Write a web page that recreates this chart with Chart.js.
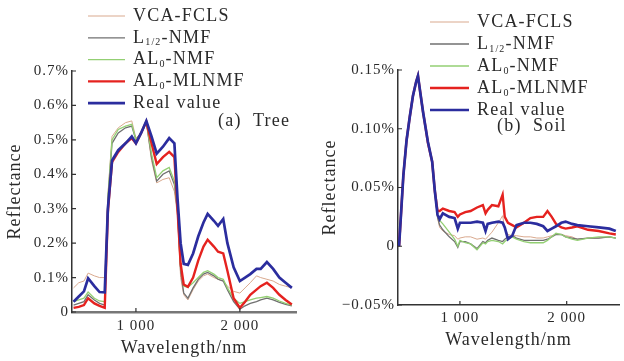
<!DOCTYPE html>
<html>
<head>
<meta charset="utf-8">
<script src="https://cdn.jsdelivr.net/npm/chart.js@4.4.0/dist/chart.umd.min.js"></script>
<style>
  html, body { margin: 0; padding: 0; background: #fff; }
  .panel { position: absolute; top: 0; width: 312px; height: 361px; }
</style>
</head>
<body>
<div class="panel" style="left:0"><canvas id="tree" width="312" height="361"></canvas></div>
<div class="panel" style="left:312px"><canvas id="soil" width="312" height="361"></canvas></div>
<script>
// series (same order in both panels)
const seriesNames = ['VCA-FCLS', 'L_{1/2}-NMF', 'AL_{0}-NMF', 'AL_{0}-MLNMF', 'Real value'];
const seriesColors = ['#d9a98e', '#707070', '#93cf73', '#e5221f', '#2b2d9e'];
const seriesWidths = [1, 1.3, 1.3, 2.4, 2.7];

// x ticks (both panels)
const xTicks = [1000, 2000];
const xTickLabels = ['1 000', '2 000'];

// (a) Tree, reflectance in %
const treeWavelength = [400, 450, 500, 540, 600, 650, 700, 730, 770, 830, 900, 960, 1000, 1050, 1100, 1150, 1200, 1260, 1320, 1370, 1400, 1430, 1460, 1500, 1550, 1600, 1650, 1690, 1750, 1790, 1840, 1880, 1940, 2000, 2050, 2100, 2160, 2200, 2260, 2320, 2380, 2440, 2500];
const treeVCA = [0.07, 0.085, 0.09, 0.113, 0.105, 0.1, 0.1, 0.34, 0.51, 0.535, 0.55, 0.555, 0.505, 0.52, 0.55, 0.44, 0.375, 0.385, 0.39, 0.35, 0.28, 0.1, 0.05, 0.035, 0.065, 0.09, 0.105, 0.11, 0.1, 0.095, 0.09, 0.075, 0.06, 0.055, 0.07, 0.085, 0.105, 0.1, 0.095, 0.09, 0.08, 0.075, 0.07];
const treeL12 = [0.02, 0.025, 0.03, 0.05, 0.035, 0.025, 0.02, 0.32, 0.49, 0.52, 0.535, 0.54, 0.5, 0.52, 0.552, 0.45, 0.38, 0.4, 0.41, 0.37, 0.29, 0.12, 0.055, 0.04, 0.07, 0.095, 0.11, 0.115, 0.105, 0.095, 0.09, 0.065, 0.03, 0.008, 0.018, 0.025, 0.03, 0.035, 0.04, 0.035, 0.028, 0.022, 0.018];
const treeAL0 = [0.03, 0.035, 0.04, 0.058, 0.04, 0.032, 0.03, 0.33, 0.5, 0.53, 0.54, 0.545, 0.5, 0.52, 0.553, 0.46, 0.39, 0.41, 0.42, 0.38, 0.3, 0.13, 0.075, 0.072, 0.085, 0.1, 0.115, 0.12, 0.11, 0.1, 0.095, 0.07, 0.04, 0.025, 0.03, 0.035, 0.04, 0.042, 0.045, 0.04, 0.032, 0.025, 0.02];
const treeAL0ML = [0.012, 0.015, 0.02, 0.04, 0.025, 0.018, 0.012, 0.29, 0.435, 0.465, 0.49, 0.505, 0.49, 0.52, 0.553, 0.49, 0.43, 0.45, 0.465, 0.45, 0.3, 0.14, 0.08, 0.073, 0.1, 0.15, 0.19, 0.21, 0.19, 0.175, 0.17, 0.12, 0.04, 0.012, 0.03, 0.05, 0.065, 0.075, 0.085, 0.07, 0.05, 0.035, 0.022];
const treeReal = [0.03, 0.045, 0.06, 0.098, 0.075, 0.058, 0.057, 0.3, 0.44, 0.47, 0.49, 0.51, 0.49, 0.52, 0.555, 0.51, 0.46, 0.48, 0.505, 0.49, 0.33, 0.2, 0.14, 0.137, 0.17, 0.22, 0.26, 0.285, 0.265, 0.25, 0.27, 0.2, 0.13, 0.09, 0.1, 0.11, 0.125, 0.125, 0.145, 0.125, 0.1, 0.085, 0.07];
const treeYTicks = [0, 0.1, 0.2, 0.3, 0.4, 0.5, 0.6, 0.7];
const treeYTickLabels = ['0', '0.1%', '0.2%', '0.3%', '0.4%', '0.5%', '0.6%', '0.7%'];

// (b) Soil, reflectance in %
const soilWavelength = [430, 450, 470, 500, 530, 560, 590, 607, 630, 655, 680, 700, 740, 765, 790, 810, 840, 900, 950, 980, 1000, 1050, 1100, 1160, 1215, 1240, 1260, 1300, 1360, 1400, 1420, 1450, 1490, 1530, 1600, 1660, 1720, 1780, 1820, 1860, 1900, 1950, 1990, 2050, 2100, 2200, 2300, 2400, 2460];
const soilVCA = [0, 0.03, 0.06, 0.09, 0.11, 0.128, 0.14, 0.145, 0.13, 0.114, 0.1, 0.089, 0.072, 0.047, 0.024, 0.016, 0.013, 0.01, 0.009, 0.006, 0.007, 0.008, 0.008, 0.006, 0.007, 0.006, 0.008, 0.012, 0.02, 0.026, 0.015, 0.01, 0.009, 0.009, 0.008, 0.008, 0.007, 0.007, 0.008, 0.009, 0.01, 0.01, 0.009, 0.008, 0.006, 0.007, 0.007, 0.008, 0.007];
const soilL12 = [0, 0.03, 0.06, 0.09, 0.11, 0.128, 0.14, 0.145, 0.13, 0.114, 0.1, 0.089, 0.072, 0.047, 0.025, 0.018, 0.014, 0.008, 0.004, -0.001, 0.004, 0.004, 0.002, -0.002, 0.004, 0.003, 0.005, 0.007, 0.005, 0.004, 0.006, 0.008, 0.009, 0.007, 0.005, 0.005, 0.005, 0.005, 0.006, 0.008, 0.01, 0.01, 0.008, 0.007, 0.006, 0.007, 0.007, 0.008, 0.007];
const soilAL0 = [0, 0.03, 0.06, 0.09, 0.11, 0.128, 0.14, 0.145, 0.13, 0.114, 0.1, 0.09, 0.072, 0.047, 0.026, 0.022, 0.019, 0.012, 0.006, 0, 0.005, 0.003, 0.002, -0.003, 0.003, 0.002, 0.004, 0.005, 0.004, 0.002, 0.004, 0.006, 0.008, 0.006, 0.004, 0.003, 0.003, 0.003, 0.005, 0.008, 0.011, 0.01, 0.008, 0.006, 0.005, 0.007, 0.008, 0.008, 0.007];
const soilAL0ML = [0, 0.03, 0.06, 0.09, 0.11, 0.128, 0.14, 0.145, 0.13, 0.114, 0.1, 0.088, 0.072, 0.047, 0.03, 0.03, 0.032, 0.03, 0.029, 0.025, 0.027, 0.029, 0.03, 0.033, 0.035, 0.028, 0.031, 0.035, 0.034, 0.044, 0.025, 0.02, 0.018, 0.016, 0.02, 0.024, 0.025, 0.025, 0.03, 0.025, 0.019, 0.016, 0.015, 0.016, 0.017, 0.014, 0.013, 0.011, 0.01];
const soilReal = [0, 0.03, 0.06, 0.09, 0.11, 0.128, 0.14, 0.145, 0.13, 0.114, 0.1, 0.089, 0.072, 0.047, 0.027, 0.023, 0.028, 0.025, 0.024, 0.015, 0.02, 0.02, 0.02, 0.021, 0.02, 0.013, 0.019, 0.02, 0.021, 0.02, 0.016, 0.006, 0.009, 0.018, 0.02, 0.02, 0.019, 0.017, 0.013, 0.015, 0.017, 0.02, 0.021, 0.019, 0.018, 0.017, 0.016, 0.015, 0.013];
const soilYTicks = [-0.05, 0, 0.05, 0.1, 0.15];
const soilYTickLabels = ['\u22120.05%', '0', '0.05%', '0.10%', '0.15%'];

Chart.defaults.font.family = "'Liberation Serif', 'Times New Roman', serif";
Chart.defaults.color = '#2a2a2a';

// little inward tick marks, like the original figure
const innerTicks = {
  id: 'innerTicks',
  beforeDraw(chart) {
    chart.ctx.letterSpacing = '1px';
  },
  afterDraw(chart) {
    const { ctx, chartArea, scales } = chart;
    ctx.save();
    ctx.strokeStyle = '#333';
    ctx.lineWidth = 1.2;
    ctx.beginPath();
    scales.x.ticks.forEach(t => {
      const px = scales.x.getPixelForValue(t.value);
      ctx.moveTo(px, chartArea.bottom);
      ctx.lineTo(px, chartArea.bottom - 4);
    });
    scales.y.ticks.forEach(t => {
      const py = scales.y.getPixelForValue(t.value);
      ctx.moveTo(chartArea.left, py);
      ctx.lineTo(chartArea.left + 4, py);
    });
    ctx.stroke();
    ctx.restore();
  }
};

// split 'AL_{0}-NMF' into normal / subscript pieces
function splitSub(text) {
  const parts = [];
  const re = /_\{([^}]*)\}/g;
  let last = 0, m;
  while ((m = re.exec(text)) !== null) {
    if (m.index > last) parts.push({ t: text.slice(last, m.index), sub: false });
    parts.push({ t: m[1], sub: true });
    last = re.lastIndex;
  }
  if (last < text.length) parts.push({ t: text.slice(last), sub: false });
  return parts;
}

const panelLegend = {
  id: 'panelLegend',
  afterDraw(chart, args, opts) {
    const ctx = chart.ctx;
    const fam = Chart.defaults.font.family;
    ctx.save();
    ctx.letterSpacing = '1.2px';
    ctx.textBaseline = 'middle';
    ctx.fillStyle = '#2a2a2a';
    chart.data.datasets.forEach((ds, i) => {
      const y = opts.y + i * opts.rowH;
      ctx.strokeStyle = ds.borderColor;
      ctx.lineWidth = ds.borderWidth;
      ctx.beginPath();
      ctx.moveTo(opts.x, y);
      ctx.lineTo(opts.x + opts.lineLen, y);
      ctx.stroke();
      let tx = opts.x + opts.lineLen + opts.gap;
      splitSub(seriesNames[i]).forEach(p => {
        ctx.font = (p.sub ? '10px ' : '18px ') + fam;
        ctx.fillText(p.t, tx, p.sub ? y + 5 : y);
        tx += ctx.measureText(p.t).width;
      });
    });
    ctx.font = '18px ' + fam;
    ctx.fillText(opts.tag, opts.tagX, opts.tagY);
    ctx.restore();
  }
};

function makePanel(id, wavelength, series, o) {
  const datasets = series.map((vals, i) => ({
    label: seriesNames[i],
    data: wavelength.map((w, k) => ({ x: w, y: vals[k] })),
    borderColor: seriesColors[i],
    borderWidth: seriesWidths[i],
    pointRadius: 0,
    tension: 0,
    fill: false,
    order: series.length - i
  }));
  return new Chart(document.getElementById(id), {
    type: 'line',
    data: { datasets },
    plugins: [innerTicks, panelLegend],
    options: {
      responsive: false,
      animation: false,
      layout: { padding: { left: 0, right: o.padRight, top: o.padTop, bottom: 0 } },
      plugins: {
        legend: { display: false },
        tooltip: { enabled: false },
        panelLegend: o.legend
      },
      scales: {
        x: {
          type: 'linear',
          min: o.xMin,
          max: o.xMax,
          afterBuildTicks: s => { s.ticks = xTicks.map(v => ({ value: v })); },
          afterFit: s => { s.height = o.xHeight; },
          grid: { display: false, drawTicks: false },
          border: { display: true, color: o.xBorder, width: o.xBorderW },
          ticks: {
            padding: o.xTickPad,
            font: { size: 15 },
            color: '#2a2a2a',
            callback: (v, i) => xTickLabels[i]
          },
          title: {
            display: true,
            text: 'Wavelength/nm',
            font: { size: 18 },
            color: '#2a2a2a',
            padding: { top: 0, bottom: o.xTitlePad }
          }
        },
        y: {
          min: o.yMin,
          max: o.yMax,
          afterBuildTicks: s => { s.ticks = o.yTicks.map(v => ({ value: v })); },
          afterFit: s => { s.width = o.yWidth; },
          grid: { display: false, drawTicks: false },
          border: { display: true, color: '#333', width: 1.5 },
          ticks: {
            padding: 3,
            font: { size: 15 },
            color: '#2a2a2a',
            callback: (v, i) => o.yTickLabels[i]
          },
          title: {
            display: true,
            text: 'Reflectance',
            font: { size: 18 },
            color: '#2a2a2a',
            padding: { top: o.yTitlePad, bottom: 0 }
          }
        }
      }
    }
  });
}

makePanel('tree', treeWavelength, [treeVCA, treeL12, treeAL0, treeAL0ML, treeReal], {
  xMin: 385, xMax: 2540, yMin: 0, yMax: 0.7,
  yTicks: treeYTicks, yTickLabels: treeYTickLabels,
  padRight: 16, padTop: 71, xHeight: 49, yWidth: 72,
  xBorder: '#777', xBorderW: 2.5, xTickPad: 5, xTitlePad: 2, yTitlePad: 4,
  legend: { x: 88, y: 16, rowH: 21.8, lineLen: 37, gap: 8, tag: '(a)  Tree', tagX: 218, tagY: 121 }
});

makePanel('soil', soilWavelength, [soilVCA, soilL12, soilAL0, soilAL0ML, soilReal], {
  xMin: 420, xMax: 2490, yMin: -0.05, yMax: 0.15,
  yTicks: soilYTicks, yTickLabels: soilYTickLabels,
  padRight: 5, padTop: 70, xHeight: 56, yWidth: 86,
  xBorder: '#333', xBorderW: 1.5, xTickPad: 4, xTitlePad: 10, yTitlePad: 7,
  legend: { x: 118, y: 22, rowH: 22, lineLen: 39, gap: 8, tag: '(b)  Soil', tagX: 185, tagY: 126 }
});
</script>
</body>
</html>
